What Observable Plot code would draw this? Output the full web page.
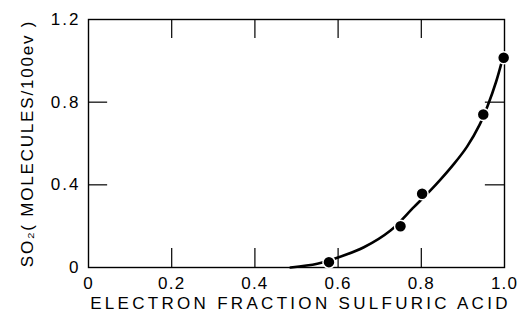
<!DOCTYPE html>
<html>
<head>
<meta charset="utf-8">
<script src="https://cdn.jsdelivr.net/npm/d3@7"></script>
<script src="https://cdn.jsdelivr.net/npm/@observablehq/plot@0.6"></script>
<style>
  html, body { margin: 0; padding: 0; background: #fff; }
  svg text { letter-spacing: 2px; }
  .xax text { letter-spacing: 1.2px; }
  .xlab text { letter-spacing: 3.3px; }
  .ylab text { letter-spacing: 1.8px; }
</style>
</head>
<body>
<div id="chart"></div>
<script>
// Measured points
const pointX = [0.578, 0.75, 0.802, 0.949, 0.998];
const pointY = [0.026, 0.20, 0.357, 0.74, 1.015];
// Fitted curve
const curveX = [0.486, 0.55, 0.598, 0.662, 0.726, 0.782, 0.822, 0.846, 0.878, 0.91, 0.94, 0.96, 0.98, 0.994];
const curveY = [0.0, 0.018, 0.047, 0.098, 0.179, 0.292, 0.373, 0.425, 0.50, 0.585, 0.69, 0.785, 0.90, 1.0];
// Ticks
const xTicks = [0, 0.2, 0.4, 0.6, 0.8, 1.0];
const xTickLabels = ["0", "0.2", "0.4", "0.6", "0.8", "1.0"];
const yTicks = [0, 0.4, 0.8, 1.2];
const yTickLabels = ["0", "0.4", "0.8", "1.2"];
const xInner = [0.2, 0.4, 0.6, 0.8];
const yInner = [0.4, 0.8];
const xLabel = "ELECTRON FRACTION SULFURIC ACID";
const yLabel = "SO\u2082( MOLECULES/100ev )";

const points = pointX.map((x, i) => ({x, y: pointY[i]}));
const curve = curveX.map((x, i) => ({x, y: curveY[i]}));

const font = "'Liberation Sans', Arial, sans-serif";

const chart = Plot.plot({
  width: 517,
  height: 321,
  marginLeft: 88,
  marginRight: 13,
  marginTop: 19,
  marginBottom: 54,
  style: {fontFamily: font, color: "#000", background: "#fff"},
  x: {domain: [0, 1]},
  y: {domain: [0, 1.2]},
  marks: [
    Plot.frame({stroke: "#000", strokeWidth: 1.4}),
    // inward ticks bottom & top
    Plot.ruleX(xInner, {y1: 0, y2: 0.092, stroke: "#000", strokeWidth: 1.2}),
    Plot.ruleX(xInner, {y1: 1.2, y2: 1.108, stroke: "#000", strokeWidth: 1.2}),
    // inward ticks left & right
    Plot.ruleY(yInner, {x1: 0, x2: 0.046, stroke: "#000", strokeWidth: 1.2}),
    Plot.ruleY(yInner, {x1: 1, x2: 0.954, stroke: "#000", strokeWidth: 1.2}),
    Plot.axisX({ticks: xTicks, tickFormat: d => xTickLabels[xTicks.indexOf(d)], tickSize: 0, tickPadding: 9, fontSize: 17, label: null, className: "xax"}),
    Plot.axisY({ticks: yTicks, tickFormat: d => yTickLabels[yTicks.indexOf(d)], tickSize: 0, tickPadding: 8, fontSize: 17, label: null}),
    Plot.line(curve, {x: "x", y: "y", curve: "catmull-rom", stroke: "#000", strokeWidth: 2.6}),
    Plot.dot(points, {x: "x", y: "y", r: 6, fill: "#000", stroke: "#fff", strokeWidth: 1.5}),
    Plot.text([xLabel], {text: d => d, frameAnchor: "bottom", dy: 41, dx: 4, fontSize: 17, fill: "#000", className: "xlab"}),
    Plot.text([yLabel], {text: d => d, frameAnchor: "left", textAnchor: "middle", dx: -61, rotate: -90, fontSize: 17, fill: "#000", className: "ylab"})
  ]
});
document.getElementById("chart").appendChild(chart);
</script>
</body>
</html>
